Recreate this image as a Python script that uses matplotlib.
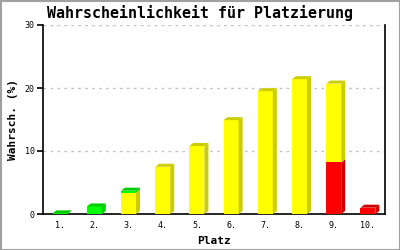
import matplotlib
matplotlib.use("Agg")
import matplotlib.pyplot as plt
from matplotlib.patches import Polygon, Rectangle

# data
plaetze = ["1.", "2.", "3.", "4.", "5.", "6.", "7.", "8.", "9.", "10."]
gruen = [0.1, 1.2, 0.3, 0, 0, 0, 0, 0, 0, 0]
gelb = [0, 0, 3.4, 7.5, 10.8, 14.9, 19.5, 21.4, 12.5, 0]
rot = [0, 0, 0, 0, 0, 0, 0, 0, 8.2, 1.0]
yticks = [0, 10, 20, 30]

# stacking order from bottom: red, yellow, green
series = [
    (rot, "#ff0000", "#cc0000"),
    (gelb, "#ffff00", "#cccc00"),
    (gruen, "#00ff00", "#00cc00"),
]

mono = "DejaVu Sans Mono"
W, H = 400, 250
fig = plt.figure(figsize=(4, 2.5), dpi=100)
fig.patches.append(Rectangle((0.5 / W, 0.5 / H), 1 - 1.0 / W, 1 - 1.0 / H,
                             transform=fig.transFigure, fill=False,
                             edgecolor="#a0a0a0", linewidth=1.5))

ax = fig.add_axes([43 / W, 36 / H, 342 / W, 189 / H])
ax.set_xlim(0, 10)
ax.set_ylim(0, 30)

bw = 15 / 34.2
dx = 4 / 34.2
dy = 3 / 6.3

for i in range(len(plaetze)):
    x0 = i + 0.5 - bw / 2
    base = 0
    top_col = None
    for vals, front, side in series:
        v = vals[i]
        if v <= 0:
            continue
        ax.add_patch(Rectangle((x0, base), bw, v, facecolor=front, edgecolor="none", zorder=3))
        ax.add_patch(Polygon([(x0 + bw, base), (x0 + bw + dx, base + dy),
                              (x0 + bw + dx, base + v + dy), (x0 + bw, base + v)],
                             closed=True, facecolor=side, edgecolor="none", zorder=3))
        base += v
        top_col = side
    if top_col is not None:
        ax.add_patch(Polygon([(x0, base), (x0 + dx, base + dy),
                              (x0 + bw + dx, base + dy), (x0 + bw, base)],
                             closed=True, facecolor=top_col, edgecolor="none", zorder=3))

for y in yticks[1:]:
    ax.axhline(y, color="#c4c4c4", linestyle=(0, (2, 3)), linewidth=1, zorder=1)

ax.spines["top"].set_visible(False)
for s in ["left", "bottom", "right"]:
    ax.spines[s].set_linewidth(1.2)

ax.set_yticks(yticks)
ax.set_yticklabels([str(t) for t in yticks], fontfamily=mono, fontsize=6)
ax.set_xticks([i + 0.5 for i in range(len(plaetze))])
ax.set_xticklabels(plaetze, fontfamily=mono, fontsize=6)
ax.tick_params(axis="x", length=0, pad=5)
ax.tick_params(axis="y", length=4, width=1.2, pad=2)

ax.set_xlabel("Platz", fontfamily=mono, fontsize=8, fontweight="bold", labelpad=4)
ax.set_ylabel("Wahrsch. (%)", fontfamily=mono, fontsize=8, fontweight="bold", labelpad=5)
fig.text(0.5, 1 - 13 / H, "Wahrscheinlichkeit für Platzierung", ha="center", va="center",
         fontfamily=mono, fontsize=10.8, fontweight="bold")

fig.savefig("out.png", dpi=100)
